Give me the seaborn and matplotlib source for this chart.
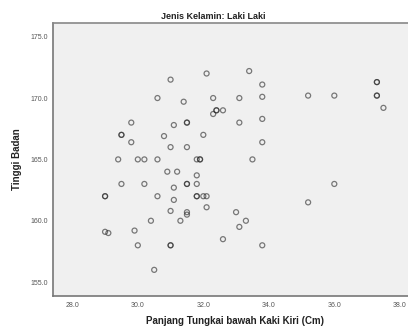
import numpy as np
import pandas as pd
import matplotlib
matplotlib.use('Agg')
import matplotlib.pyplot as plt
import seaborn as sns

# Panjang tungkai bawah kaki kiri (cm) vs tinggi badan (cm), laki-laki
tungkai = [31.0, 32.1, 33.4, 33.8, 30.6, 31.4, 32.3, 33.1, 33.8, 35.2, 36.0,
           37.3, 37.3, 37.3, 37.3, 37.5, 32.3, 32.4, 32.4, 32.6,
           29.8, 31.1, 31.5, 31.5, 33.1, 33.8, 29.5, 29.5, 30.8, 32.0,
           29.8, 31.0, 31.5, 33.8,
           29.4, 30.0, 30.2, 30.6, 31.8, 31.9, 31.9, 33.5,
           30.9, 31.2, 31.8, 29.5, 30.2, 31.1, 31.5, 31.5, 31.8, 36.0,
           29.0, 29.0, 30.6, 31.1, 31.8, 31.8, 32.0, 32.1, 35.2,
           31.0, 31.5, 31.5, 32.1, 33.0, 30.4, 31.3, 33.3,
           29.0, 29.1, 29.9, 30.0, 31.0, 31.0, 32.6, 33.1, 33.8, 30.5]
tinggi = [171.5, 172.0, 172.2, 171.1, 170.0, 169.7, 170.0, 170.0, 170.1, 170.2, 170.2,
          171.3, 171.3, 170.2, 170.2, 169.2, 168.7, 169.0, 169.0, 169.0,
          168.0, 167.8, 168.0, 168.0, 168.0, 168.3, 167.0, 167.0, 166.9, 167.0,
          166.4, 166.0, 166.0, 166.4,
          165.0, 165.0, 165.0, 165.0, 165.0, 165.0, 165.0, 165.0,
          164.0, 164.0, 163.7, 163.0, 163.0, 162.7, 163.0, 163.0, 163.0, 163.0,
          162.0, 162.0, 162.0, 161.7, 162.0, 162.0, 162.0, 162.0, 161.5,
          160.8, 160.7, 160.5, 161.1, 160.7, 160.0, 160.0, 160.0,
          159.1, 159.0, 159.2, 158.0, 158.0, 158.0, 158.5, 159.5, 158.0, 156.0]

xticks = [28.0, 30.0, 32.0, 34.0, 36.0, 38.0]
yticks = [155.0, 160.0, 165.0, 170.0, 175.0]

df = pd.DataFrame({'Panjang Tungkai bawah Kaki Kiri (Cm)': tungkai,
                   'Tinggi Badan': tinggi})

sns.set_style('white')
plt.rcParams['font.family'] = ['Liberation Sans', 'DejaVu Sans']

fig = plt.figure(figsize=(4.08, 3.28), dpi=100)
ax = fig.add_axes([0.1307, 0.0976, 0.8693, 0.8332])
ax.set_facecolor('#f0f0f0')

sns.scatterplot(data=df, x='Panjang Tungkai bawah Kaki Kiri (Cm)', y='Tinggi Badan',
                ax=ax, marker='o', s=13, facecolor='none',
                edgecolor=(0.15, 0.15, 0.15, 0.6), linewidth=0.9)

ax.set_xlim(27.42, 38.25)
ax.set_ylim(153.87, 176.14)
ax.set_xticks(xticks)
ax.set_yticks(yticks)
ax.set_xticklabels([f'{v:.1f}' for v in xticks])
ax.set_yticklabels([f'{v:.1f}' for v in yticks])
ax.tick_params(axis='both', labelsize=5, colors='#444444', length=3, width=0.8,
               direction='out', pad=1)
for lab in ax.get_xticklabels() + ax.get_yticklabels():
    lab.set_color('#555555')

ax.spines['left'].set_color('#777777')
ax.spines['bottom'].set_color('#777777')
ax.spines['top'].set_color('#888888')
ax.spines['left'].set_linewidth(1.2)
ax.spines['bottom'].set_linewidth(1.2)
ax.spines['top'].set_linewidth(1.2)
ax.spines['right'].set_visible(False)

ax.set_xlabel('Panjang Tungkai bawah Kaki Kiri (Cm)', fontsize=7, fontweight='bold',
              color='#222222')
ax.xaxis.set_label_coords(0.511, -0.074)
ax.set_ylabel('Tinggi Badan', fontsize=7, fontweight='bold', color='#222222', labelpad=6)
ax.set_title('Jenis Kelamin: Laki Laki', fontsize=6.5, fontweight='bold',
             color='#222222', pad=3, x=0.45)

fig.savefig('out.png', dpi=100)
